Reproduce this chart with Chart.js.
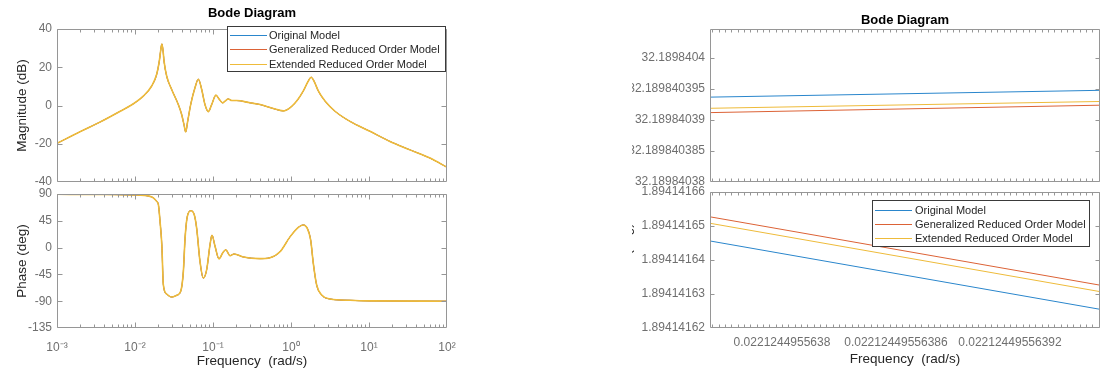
<!DOCTYPE html>
<html>
<head>
<meta charset="utf-8">
<script src="https://cdn.jsdelivr.net/npm/chart.js@4/dist/chart.umd.min.js"></script>
<style>
  html, body { margin: 0; padding: 0; background: #fff; }
  body { width: 1101px; height: 370px; position: relative; overflow: hidden; }
  canvas { position: absolute; display: block; }
  #zoomPane { position: absolute; left: 632px; top: 0; width: 469px; height: 370px; overflow: hidden; }
</style>
</head>
<body>
<canvas id="magFull" width="460" height="190" style="left:0;top:0"></canvas>
<canvas id="phaseFull" width="460" height="184" style="left:0;top:186px"></canvas>
<div id="zoomPane">
  <canvas id="magZoom" width="501" height="188" style="left:-32px;top:0"></canvas>
  <canvas id="phaseZoom" width="501" height="184" style="left:-32px;top:186px"></canvas>
</div>
<script>
// ---- series ----
const seriesNames = ['Original Model', 'Generalized Reduced Order Model', 'Extended Reduced Order Model'];
const seriesColors = ['#2a86cc', '#dc6236', '#eebb3a'];

// full frequency sweep (rad/s), identical for the three models at this scale
const magFreq = [0.001, 0.002, 0.00355, 0.00646, 0.00955, 0.01276, 0.01637, 0.01897, 0.02051, 0.02138,
  0.0221245, 0.02291, 0.02355, 0.02547, 0.02951, 0.03589, 0.03963, 0.04246, 0.04467, 0.04732,
  0.05176, 0.05875, 0.06486, 0.07161, 0.07889, 0.0871, 0.09616, 0.1091, 0.1205, 0.133,
  0.1426, 0.157, 0.1738, 0.2014, 0.2979, 0.4009, 0.5929, 0.7943, 0.9705, 1.183,
  1.439, 1.667, 1.811, 1.972, 2.239, 2.729, 3.664, 5.702, 10.3, 18.58,
  33.57, 60.53, 100];
const magDb = [-19.8, -13.6, -8.7, -3.0, 0.9, 4.9, 10.2, 16.3, 23.3, 29.0,
  32.19, 28.5, 23.3, 15.4, 8.4, 0.5, -4.7, -10.0, -13.8, -8.3,
  0.5, 9.3, 13.7, 8.4, 0.5, -3.2, 0.5, 5.4, 3.2, 1.4,
  2.3, 3.4, 2.6, 2.6, 1.4, 0.5, -1.6, -2.8, -1.2, 2.3,
  7.6, 12.8, 14.8, 12.8, 7.6, 2.3, -3.0, -8.3, -13.5, -18.8,
  -23.2, -27.5, -32.3];

const phaseFreq = [0.001, 0.003162, 0.00955, 0.01556, 0.01718, 0.01897, 0.01995, 0.02094, 0.0221245, 0.02307,
  0.02547, 0.02951, 0.03428, 0.03855, 0.04169, 0.04385, 0.04688, 0.05224, 0.05754, 0.06166,
  0.06808, 0.07516, 0.08299, 0.09162, 0.09705, 0.1062, 0.1194, 0.133, 0.1455, 0.1652,
  0.1858, 0.2449, 0.4009, 0.5383, 0.7228, 0.9705, 1.242, 1.439, 1.618, 1.786,
  1.932, 2.133, 2.472, 3.162, 5.702, 10, 100];
const phaseDeg = [89.5, 89.2, 88.4, 86, 83.5, 77.6, 72, 44, 1.9, -62,
  -78, -83, -80, -73.4, -40, 16, 52.5, 62, 55, 33,
  -23, -51, -37, 5, 20.7, 2.2, -19, -9, -3.5, -13.6,
  -10.8, -15.8, -18.5, -17, -7, 18, 34, 38, 32.4, 12.8,
  -26.4, -62.8, -79.6, -86.3, -88.5, -89.5, -90];

const decadeTicks = [0.001, 0.01, 0.1, 1, 10, 100];
const decadeLabels = ['10\u207B\u00B3', '10\u207B\u00B2', '10\u207B\u00B9', '10\u2070', '10\u00B9', '10\u00B2'];
const magTicks = [-40, -20, 0, 20, 40];
const phaseTicks = [-135, -90, -45, 0, 45, 90];

// close-up around the resonance peak
const zoomFreq = [0.0221244955637621, 0.0221244955639674];
const zoomMag = [
  [32.1898403937, 32.1898403948],   // original
  [32.1898403912, 32.1898403924],   // generalized
  [32.1898403919, 32.1898403930]    // extended
];
const zoomPhase = [
  [1.8941416456, 1.8941416255],
  [1.8941416527, 1.8941416326],
  [1.8941416508, 1.8941416307]
];
const zoomMagTickLabels = ['32.18984038', '32.189840385', '32.18984039', '32.189840395', '32.1898404'];
const zoomPhaseTickLabels = ['1.89414162', '1.89414163', '1.89414164', '1.89414165', '1.89414166'];
const zoomFreqTickLabels = ['0.0221244955638', '0.02212449556386', '0.02212449556392'];

// ---- look ----
const FONT = '"Liberation Sans", Arial, Helvetica, sans-serif';
Chart.defaults.font.family = FONT;
const TICK_COLOR = '#6f6f6f';
const LABEL_COLOR = '#262626';
const AXIS_COLOR = '#969696';

// minor tick marks of the log axis: 2..9 within each decade
const logMinor = [];
for (let d = -3; d < 2; d++) for (let k = 2; k <= 9; k++) logMinor.push(k * Math.pow(10, d));
// minor tick marks of the close-up frequency axis
const zoomMinor = [];
for (let i = -15; i <= 60; i++) zoomMinor.push(0.0221244955638 + i * (1e-14 / 3));

function fixedWidth(w) {
  return s => { s.width = w; s.paddingTop = s.paddingBottom = s.paddingLeft = s.paddingRight = 0; };
}
function fixedHeight(h) {
  return s => { s.height = h; s.paddingTop = s.paddingBottom = s.paddingLeft = s.paddingRight = 0; };
}
function fixedTicks(values) {
  return s => { s.ticks = values.map(v => ({ value: v })); };
}

// MATLAB-style box with inward tick marks on all four sides
const boxAxes = {
  id: 'boxAxes',
  afterDatasetsDraw(chart, args, o) {
    const { ctx, chartArea: a } = chart;
    const xs = chart.scales.x, ys = chart.scales.y;
    const L = a.left + 0.5, R = a.right - 0.5, T = a.top + 0.5, B = a.bottom - 0.5;
    ctx.save();
    ctx.strokeStyle = AXIS_COLOR;
    ctx.lineWidth = 1;
    ctx.beginPath();
    const xMark = (v, len) => {
      const p = Math.round(xs.getPixelForValue(v)) + 0.5;
      if (p < L - 0.1 || p > R + 0.1) return;
      ctx.moveTo(p, B); ctx.lineTo(p, B - len);
      ctx.moveTo(p, T); ctx.lineTo(p, T + len);
    };
    const yMark = (v, len) => {
      const p = Math.round(ys.getPixelForValue(v)) + 0.5;
      if (p < T - 0.1 || p > B + 0.1) return;
      ctx.moveTo(L, p); ctx.lineTo(L + len, p);
      ctx.moveTo(R, p); ctx.lineTo(R - len, p);
    };
    (o.xMinor || []).forEach(v => xMark(v, o.minor));
    (o.xMajor || []).forEach(v => xMark(v, o.major));
    ys.ticks.forEach(t => yMark(t.value, o.major));
    ctx.rect(L, T, R - L, B - T);
    ctx.stroke();
    ctx.restore();
  }
};

// bold heading centred over the plot area
const axesTitle = {
  id: 'axesTitle',
  afterDraw(chart, args, o) {
    if (!o.text) return;
    const { ctx, chartArea: a } = chart;
    ctx.save();
    ctx.font = 'bold 13px ' + FONT;
    ctx.fillStyle = '#000';
    ctx.textAlign = 'center';
    ctx.textBaseline = 'alphabetic';
    ctx.fillText(o.text, (a.left + a.right) / 2, o.y);
    ctx.restore();
  }
};

// boxed legend placed inside the axes
const boxLegend = {
  id: 'boxLegend',
  afterDraw(chart, args, o) {
    if (!o.w) return;
    const { ctx } = chart;
    ctx.save();
    ctx.fillStyle = '#fff';
    ctx.fillRect(o.x, o.y, o.w, o.h);
    ctx.strokeStyle = '#3a3a3a';
    ctx.lineWidth = 1;
    ctx.strokeRect(o.x + 0.5, o.y + 0.5, o.w - 1, o.h - 1);
    ctx.font = '11px ' + FONT;
    ctx.textBaseline = 'middle';
    chart.data.datasets.forEach((ds, i) => {
      const yy = Math.round(o.y + o.first + i * o.gap) + 0.5;
      ctx.strokeStyle = ds.borderColor;
      ctx.beginPath();
      ctx.moveTo(o.x + 3, yy);
      ctx.lineTo(o.x + 40, yy);
      ctx.stroke();
      ctx.fillStyle = LABEL_COLOR;
      ctx.fillText(ds.label, o.x + o.text, yy);
    });
    ctx.restore();
  }
};

function lineSets(xs, ysFor, widths) {
  return seriesNames.map((name, i) => ({
    label: name,
    data: xs.map((x, k) => ({ x: x, y: ysFor(i)[k] })),
    borderColor: seriesColors[i],
    backgroundColor: seriesColors[i],
    borderWidth: widths[i],
    pointRadius: 0,
    fill: false,
    cubicInterpolationMode: 'monotone',
    order: seriesNames.length - i
  }));
}

const hidden = { display: false, drawTicks: false };
const noBorder = { display: false };

function yScale(o) {
  return {
    type: 'linear',
    min: o.min, max: o.max,
    afterBuildTicks: fixedTicks(o.ticks),
    afterFit: fixedWidth(o.width),
    grid: hidden, border: noBorder,
    ticks: {
      color: TICK_COLOR, font: { size: 12 }, padding: 5,
      callback: o.labels ? (v, i) => o.labels[i] : undefined
    },
    title: {
      display: true, text: o.title, color: LABEL_COLOR,
      font: { size: 13.5 }, padding: { top: o.titlePad, bottom: 0 }
    }
  };
}

const baseOptions = () => ({
  responsive: false,
  animation: false,
  events: [],
  plugins: { legend: { display: false }, tooltip: { enabled: false } }
});

// in the full sweep the three curves coincide; the last one drawn covers the others
const fullWidths = [1, 1, 1.6];
const zoomWidths = [1, 1, 1];

// ---- full-range magnitude ----
new Chart(document.getElementById('magFull'), {
  type: 'line',
  data: { datasets: lineSets(magFreq, () => magDb, fullWidths) },
  options: Object.assign(baseOptions(), {
    layout: { padding: { top: 29, right: 13, left: 0, bottom: 0 } },
    plugins: {
      legend: { display: false }, tooltip: { enabled: false },
      axesTitle: { text: 'Bode Diagram', y: 16.8 },
      boxLegend: { x: 227, y: 26, w: 219, h: 46, first: 8.5, gap: 14.8, text: 42 },
      boxAxes: { xMajor: decadeTicks, xMinor: logMinor, major: 5, minor: 3 }
    },
    scales: {
      x: {
        type: 'logarithmic', min: 0.001, max: 100,
        afterBuildTicks: fixedTicks(decadeTicks), afterFit: fixedHeight(8),
        grid: hidden, border: noBorder, ticks: { display: false }
      },
      y: yScale({ min: -40, max: 40, ticks: magTicks, width: 57, title: 'Magnitude (dB)', titlePad: 14 })
    }
  }),
  plugins: [boxAxes, axesTitle, boxLegend]
});

// ---- full-range phase ----
new Chart(document.getElementById('phaseFull'), {
  type: 'line',
  data: { datasets: lineSets(phaseFreq, () => phaseDeg, fullWidths) },
  options: Object.assign(baseOptions(), {
    layout: { padding: { top: 8, right: 13, left: 0, bottom: 0 } },
    plugins: {
      legend: { display: false }, tooltip: { enabled: false },
      boxAxes: { xMajor: decadeTicks, xMinor: logMinor, major: 5, minor: 3 }
    },
    scales: {
      x: {
        type: 'logarithmic', min: 0.001, max: 100,
        afterBuildTicks: fixedTicks(decadeTicks), afterFit: fixedHeight(42),
        grid: hidden, border: noBorder,
        ticks: {
          color: TICK_COLOR, font: { size: 12 }, padding: 12,
          autoSkip: false, maxRotation: 0, minRotation: 0,
          callback: (v, i) => decadeLabels[i]
        },
        title: {
          display: true, text: 'Frequency  (rad/s)', color: LABEL_COLOR,
          font: { size: 13.5 }, padding: { top: 0, bottom: 1 }
        }
      },
      y: yScale({ min: -135, max: 90, ticks: phaseTicks, width: 57, title: 'Phase (deg)', titlePad: 14 })
    }
  }),
  plugins: [boxAxes]
});

// ---- close-up magnitude ----
new Chart(document.getElementById('magZoom'), {
  type: 'line',
  data: { datasets: lineSets(zoomFreq, i => zoomMag[i], zoomWidths) },
  options: Object.assign(baseOptions(), {
    layout: { padding: { top: 29, right: 1, left: 0, bottom: 0 } },
    plugins: {
      legend: { display: false }, tooltip: { enabled: false },
      axesTitle: { text: 'Bode Diagram', y: 24 },
      boxAxes: { xMajor: [], xMinor: zoomMinor, major: 4, minor: 3 }
    },
    scales: {
      x: {
        type: 'linear', min: zoomFreq[0], max: zoomFreq[1],
        afterBuildTicks: fixedTicks(zoomFreqTickLabels.map(Number)), afterFit: fixedHeight(6),
        grid: hidden, border: noBorder, ticks: { display: false }
      },
      y: yScale({
        min: 32.18984038, max: 32.1898404047, ticks: zoomMagTickLabels.map(Number),
        labels: zoomMagTickLabels, width: 110, title: 'Magnitude (dB)', titlePad: 3
      })
    }
  }),
  plugins: [boxAxes, axesTitle]
});

// ---- close-up phase ----
new Chart(document.getElementById('phaseZoom'), {
  type: 'line',
  data: { datasets: lineSets(zoomFreq, i => zoomPhase[i], zoomWidths) },
  options: Object.assign(baseOptions(), {
    layout: { padding: { top: 6, right: 1, left: 0, bottom: 0 } },
    plugins: {
      legend: { display: false }, tooltip: { enabled: false },
      boxLegend: { x: 272, y: 14, w: 218, h: 47, first: 10, gap: 14.2, text: 43 },
      boxAxes: { xMajor: [], xMinor: zoomMinor, major: 4, minor: 3 }
    },
    scales: {
      x: {
        type: 'linear', min: zoomFreq[0], max: zoomFreq[1],
        afterBuildTicks: fixedTicks(zoomFreqTickLabels.map(Number)), afterFit: fixedHeight(42),
        grid: hidden, border: noBorder,
        ticks: {
          color: TICK_COLOR, font: { size: 12 }, padding: 7,
          autoSkip: false, maxRotation: 0, minRotation: 0,
          callback: (v, i) => zoomFreqTickLabels[i]
        },
        title: {
          display: true, text: 'Frequency  (rad/s)', color: LABEL_COLOR,
          font: { size: 13.5 }, padding: { top: 0, bottom: 3 }
        }
      },
      y: yScale({
        min: 1.89414162, max: 1.89414166, ticks: zoomPhaseTickLabels.map(Number),
        labels: zoomPhaseTickLabels, width: 110, title: 'Phase (deg)', titlePad: 19
      })
    }
  }),
  plugins: [boxAxes, boxLegend]
});
</script>
</body>
</html>
